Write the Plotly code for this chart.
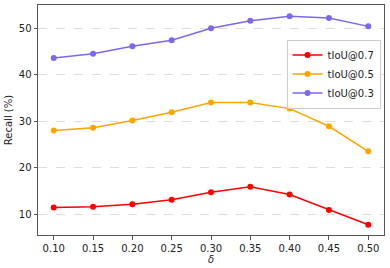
import plotly.graph_objects as go

deltas = [0.10, 0.15, 0.20, 0.25, 0.30, 0.35, 0.40, 0.45, 0.50]
tiou07 = [11.4, 11.6, 12.1, 13.1, 14.7, 15.9, 14.2, 10.9, 7.7]
tiou05 = [28.0, 28.6, 30.15, 31.9, 34.0, 34.0, 32.7, 28.9, 23.5]
tiou03 = [43.6, 44.5, 46.1, 47.4, 50.0, 51.6, 52.6, 52.2, 50.4]
series_names = ["tIoU@0.7", "tIoU@0.5", "tIoU@0.3"]
colors = ["#FF0000", "#FFA500", "#7B68EE"]
x_ticks = [0.10, 0.15, 0.20, 0.25, 0.30, 0.35, 0.40, 0.45, 0.50]
y_ticks = [10, 20, 30, 40, 50]

fig = go.Figure()
for name, vals, c in zip(series_names, [tiou07, tiou05, tiou03], colors):
    fig.add_trace(go.Scatter(x=deltas, y=vals, name=name, mode="lines+markers",
                             line=dict(color=c, width=1.5),
                             marker=dict(color=c, size=6)))

axis_common = dict(showline=True, linecolor="#555555", linewidth=1, mirror=True,
                   ticks="outside", ticklen=3.5, tickcolor="#555555",
                   tickfont=dict(size=10, color="#222222"), zeroline=False)

fig.update_layout(
    width=390, height=268,
    margin=dict(l=38, r=6, t=5, b=33),
    paper_bgcolor="white", plot_bgcolor="white",
    font=dict(family="DejaVu Sans", size=10, color="#222222"),
    xaxis=dict(range=[0.08, 0.52], tickvals=x_ticks,
               ticktext=[f"{v:.2f}" for v in x_ticks], showgrid=False,
               title=dict(text="<i>δ</i>", font=dict(size=10), standoff=2),
               **axis_common),
    yaxis=dict(range=[5.5, 55], tickvals=y_ticks, showgrid=True,
               gridcolor="#dddddd", griddash="dash", gridwidth=0.8,
               title=dict(text="Recall (%)", font=dict(size=10), standoff=4),
               **axis_common),
    legend=dict(x=0.99, y=0.85, xanchor="right", yanchor="top",
                bgcolor="rgba(255,255,255,0.8)", bordercolor="#cccccc",
                borderwidth=1, font=dict(size=10), tracegroupgap=0,
                itemwidth=30),
    showlegend=True,
)

fig.write_html("out.html", config={"displayModeBar": False},
               post_script="document.body.style.margin='0';")
